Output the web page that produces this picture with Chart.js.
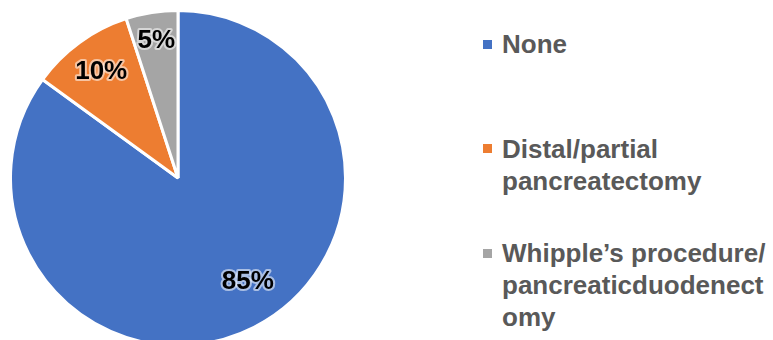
<!DOCTYPE html>
<html>
<head>
<meta charset="utf-8">
<script src="https://cdn.jsdelivr.net/npm/chart.js@4.4.1/dist/chart.umd.min.js"></script>
<style>
    html, body { margin: 0; padding: 0; width: 773px; height: 340px; overflow: hidden; background: #fff; }
    #pie-wrap { position: absolute; left: 8.5px; top: 8.5px; width: 338px; height: 338px; }
    #legend { position: absolute; left: 483px; top: 0; width: 290px; height: 340px;
        font-family: "Liberation Sans", Arial, sans-serif; font-weight: bold; font-size: 26px; color: #595959; }
    .item { position: absolute; left: 0; line-height: 32px; white-space: nowrap; }
    .box { position: absolute; left: 0; top: 11.5px; width: 9px; height: 9px; }
    .text { position: absolute; left: 19px; top: 0; }
</style>
</head>
<body>
<div id="pie-wrap"><canvas id="pie"></canvas></div>
<div id="legend"></div>
<script>
const categories = [
    ['None'],
    ['Distal/partial', 'pancreatectomy'],
    ['Whipple\u2019s procedure/', 'pancreaticduodenect', 'omy']
];
const shares = [85, 10, 5];
const colors = ['#4472C4', '#ED7D31', '#A5A5A5'];

// label placement (best-fit look): radius fraction and angle nudge per slice
const labelRadius = [0.745, 0.78, 0.83];
const labelNudgeDeg = [-7, 0, 0];

// percentage labels inside the slices, with a light white halo
const sliceLabels = {
    id: 'sliceLabels',
    afterDatasetsDraw(chart) {
        const ctx = chart.ctx;
        const meta = chart.getDatasetMeta(0);
        const total = shares.reduce((a, b) => a + b, 0);
        ctx.save();
        ctx.font = 'bold 26px "Liberation Sans", Arial, sans-serif';
        ctx.textAlign = 'center';
        ctx.textBaseline = 'middle';
        ctx.lineJoin = 'round';
        meta.data.forEach((arc, i) => {
            const mid = (arc.startAngle + arc.endAngle) / 2 + labelNudgeDeg[i] * Math.PI / 180;
            const r = arc.outerRadius * labelRadius[i];
            const x = arc.x + Math.cos(mid) * r;
            const y = arc.y + Math.sin(mid) * r;
            const txt = Math.round(shares[i] / total * 100) + '%';
            ctx.strokeStyle = 'rgba(255,255,255,0.55)';
            ctx.lineWidth = 4;
            ctx.strokeText(txt, x, y);
            ctx.fillStyle = '#000';
            ctx.fillText(txt, x, y);
        });
        ctx.restore();
    }
};

new Chart(document.getElementById('pie'), {
    type: 'pie',
    data: {
        labels: categories.map(c => c.join(' ')),
        datasets: [{
            data: shares,
            backgroundColor: colors,
            borderColor: '#fff',
            borderWidth: 3
        }]
    },
    options: {
        responsive: true,
        maintainAspectRatio: false,
        animation: false,
        layout: { padding: 0 },
        plugins: {
            legend: { display: false },
            tooltip: { enabled: false }
        }
    },
    plugins: [sliceLabels]
});

// legend on the right, entries spaced evenly
const legend = document.getElementById('legend');
categories.forEach((lines, i) => {
    const item = document.createElement('div');
    item.className = 'item';
    item.style.top = (28 + i * 104.5) + 'px';
    const box = document.createElement('div');
    box.className = 'box';
    box.style.background = colors[i];
    const text = document.createElement('div');
    text.className = 'text';
    text.innerHTML = lines.join('<br>');
    item.appendChild(box);
    item.appendChild(text);
    legend.appendChild(item);
});
</script>
</body>
</html>
